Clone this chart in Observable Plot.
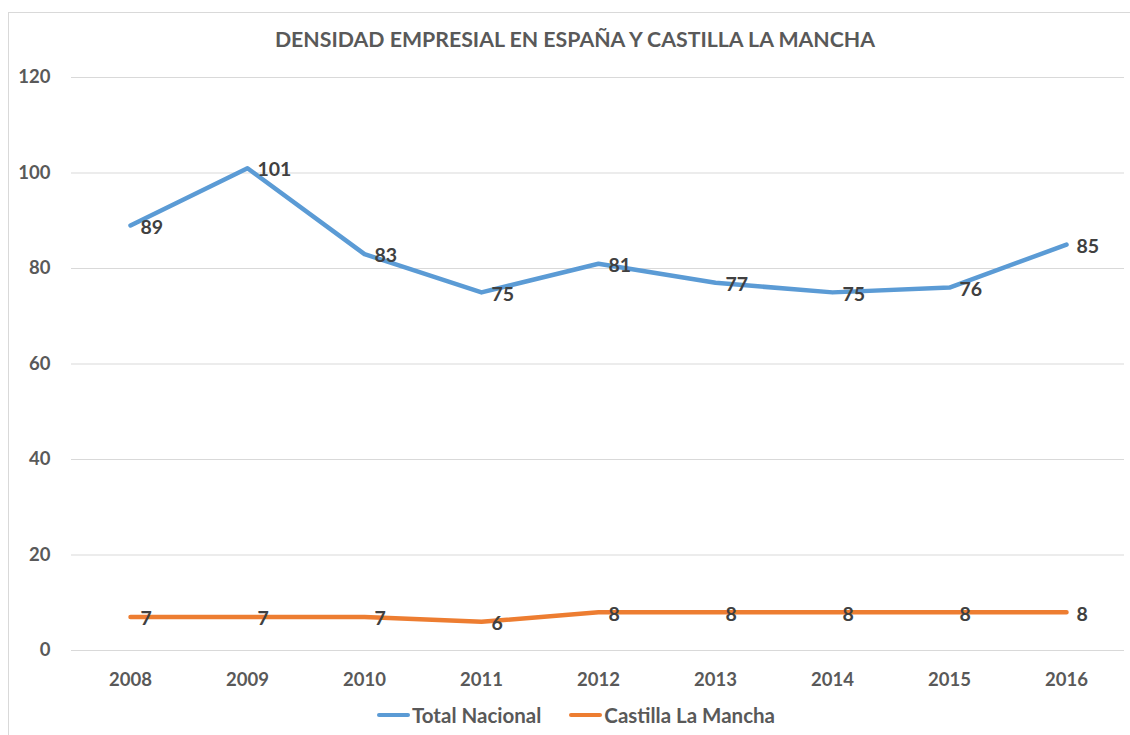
<!DOCTYPE html>
<html>
<head>
<meta charset="utf-8">
<script src="https://cdn.jsdelivr.net/npm/d3@7"></script>
<script src="https://cdn.jsdelivr.net/npm/@observablehq/plot@0.6"></script>
<style>
  html, body { margin: 0; padding: 0; background: #fff; }
  #wrap { position: relative; width: 1130px; height: 735px; overflow: hidden; font-family: Lato, "Open Sans", sans-serif; }
  #frame { position: absolute; left: 8px; top: 12px; width: 1200px; height: 800px; border: 1px solid #d9d9d9; box-sizing: border-box; }
  #title { position: absolute; left: 0; width: 1150px; top: 26px; text-align: center; font-weight: bold; font-size: 21.3px; color: #595959; }
  #chart { position: absolute; left: 0; top: 0; }
  #legend { position: absolute; top: 703px; left: 0; width: 1130px; display: flex; justify-content: center; gap: 28px; font-weight: bold; font-size: 20.5px; color: #595959; padding-left: 22px; box-sizing: border-box; }
  .item { display: flex; align-items: center; }
  .sw { display: inline-block; width: 33px; height: 4px; margin-right: 2px; border-radius: 2px; }
</style>
</head>
<body>
<div id="wrap">
  <div id="frame"></div>
  <div id="chart"></div>
  <div id="title">DENSIDAD EMPRESIAL EN ESPAÑA Y CASTILLA LA MANCHA</div>
  <div id="legend"></div>
</div>
<script>
const years = ["2008", "2009", "2010", "2011", "2012", "2013", "2014", "2015", "2016"];
const totalNacional = [89, 101, 83, 75, 81, 77, 75, 76, 85];
const castillaLaMancha = [7, 7, 7, 6, 8, 8, 8, 8, 8];
const seriesNames = ["Total Nacional", "Castilla La Mancha"];
const seriesColors = ["#5B9BD5", "#ED7D31"];
const yTicks = [0, 20, 40, 60, 80, 100, 120];

const rows = [];
years.forEach((yr, i) => {
  rows.push({year: yr, value: totalNacional[i], series: seriesNames[0]});
  rows.push({year: yr, value: castillaLaMancha[i], series: seriesNames[1]});
});

const chart = Plot.plot({
  width: 1130,
  height: 700,
  marginLeft: 71,
  marginRight: 6,
  marginTop: 77,
  marginBottom: 50,
  style: {fontFamily: "Lato, 'Open Sans', sans-serif", fontSize: "18px", fontWeight: "bold", color: "#595959", background: "transparent"},
  x: {type: "point", domain: years, padding: 0.5},
  y: {domain: [0, 120]},
  color: {domain: seriesNames, range: seriesColors},
  marks: [
    Plot.gridY(yTicks, {stroke: "#d9d9d9", strokeOpacity: 1, strokeWidth: 1}),
    Plot.axisY(yTicks, {tickSize: 0, tickPadding: 21, label: null, fontSize: 18.5}),
    Plot.axisX({tickSize: 0, tickPadding: 22, label: null, fontSize: 18.5}),
    Plot.line(rows, {x: "year", y: "value", z: "series", stroke: "#000", strokeOpacity: 0.45, strokeWidth: 4.5, dx: 1.5, dy: 3, ariaLabel: "shadow"}),
    Plot.line(rows, {x: "year", y: "value", z: "series", stroke: "series", strokeWidth: 4.5, strokeLinecap: "round", strokeLinejoin: "round"}),
    Plot.text(rows, {x: "year", y: "value", text: d => String(d.value), dx: 10, dy: 2, textAnchor: "start", fill: "#404040", fontSize: 19.5, fontWeight: "bold"})
  ]
});
document.getElementById("chart").appendChild(chart);

// blur for the drop shadow
const svg = d3.select(chart);
svg.insert("defs", ":first-child").append("filter").attr("id", "shadowBlur")
  .attr("x", "-5%").attr("y", "-20%").attr("width", "110%").attr("height", "140%")
  .append("feGaussianBlur").attr("stdDeviation", 1.6);
svg.selectAll("g[aria-label=shadow]").attr("filter", "url(#shadowBlur)");

const legend = document.getElementById("legend");
seriesNames.forEach((name, i) => {
  const item = document.createElement("div");
  item.className = "item";
  const sw = document.createElement("span");
  sw.className = "sw";
  sw.style.background = seriesColors[i];
  item.appendChild(sw);
  const t = document.createElement("span");
  t.textContent = name;
  item.appendChild(t);
  legend.appendChild(item);
});
</script>
</body>
</html>
